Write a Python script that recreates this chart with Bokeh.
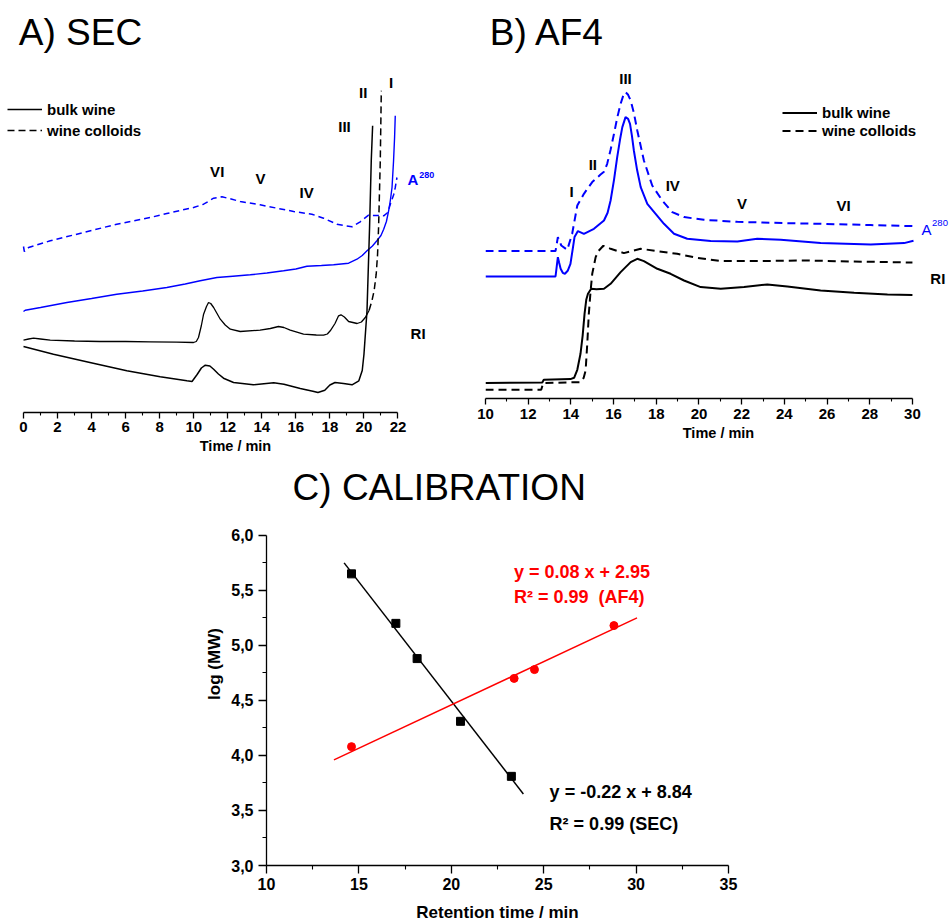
from bokeh.plotting import figure
from bokeh.models import (Range1d, FixedTicker, Legend, LegendItem, ColumnDataSource,
                          CustomJSTickFormatter)
from bokeh.layouts import column, row
from bokeh.embed import file_html
from bokeh.resources import INLINE
from bokeh.core.properties import value

FONT = "Liberation Sans"
BLUE = "#0000ff"
RED = "#ff0000"

# ---------------- Panel A: SEC chromatograms (time / min, signal a.u.) ----------------
sec_bulk_ri_t = [0, 1.76, 3.9, 6.07, 8.03, 9.6, 9.9, 10.2, 10.45, 10.68, 10.95, 11.17, 11.45,
                 11.75, 12.34, 13.5, 14.7, 15.3, 16.26, 17.0, 17.3, 17.7, 18.0, 18.3, 18.8,
                 19.3, 19.7, 19.9, 20.0, 20.18, 20.33, 20.43, 20.51]
sec_bulk_ri_y = [66, 58.3, 50, 41.7, 35.7, 31.7, 31, 38, 44.5, 47.3, 46.5, 43.3, 38.5,
                 34.3, 30, 27.7, 29.7, 28.3, 24, 21.3, 20, 22.3, 27.5, 30, 29,
                 27.7, 31.7, 42, 58, 101.7, 185, 251.7, 286.7]

sec_coll_ri_t = [0, 0.3, 0.59, 1.0, 1.57, 3.0, 4.5, 6.0, 7.44, 9.0, 9.99, 10.15, 10.28, 10.45,
                 10.58, 10.75, 10.87, 11.0, 11.17, 11.56, 11.85, 12.15, 12.73, 13.9, 14.5,
                 14.98, 15.3, 15.67, 16.45, 17.2, 17.63, 17.85, 18.02, 18.3, 18.51, 18.65,
                 18.85, 19.1, 19.6, 19.85, 20.08, 20.3, 20.47, 20.6, 20.72, 20.8, 20.86,
                 20.96, 21.02]
sec_coll_ri_y = [72.3, 73.5, 74.3, 73.5, 72.3, 71.5, 71, 71, 70.7, 70.3, 70, 71, 75, 87,
                 98.3, 106, 110, 109, 105, 93.3, 87.5, 83.3, 81, 82.3, 84,
                 86, 85, 82.3, 78.3, 77.5, 77.3, 78.5, 81.7, 89, 96.7, 97.7,
                 95.5, 91, 89, 90.5, 95, 102, 111.7, 122, 138.3, 158, 185,
                 251.7, 321.7]
SEC_COLL_SPLIT = 41  # index from which the steep part is drawn dashed

sec_bulk_uv_t = [0, 0.1, 1.0, 2.55, 4.0, 5.48, 7.0, 8.42, 9.5, 10.38, 11.36, 12.3, 13.32,
                 14.3, 15.28, 16.0, 16.65, 17.5, 18.22, 19.1, 19.59, 19.9, 20.18, 20.5,
                 20.76, 21.0, 21.16, 21.32, 21.45, 21.55, 21.65, 21.74, 21.8, 21.84]
sec_bulk_uv_y = [101, 102.3, 105, 110, 114, 118.3, 121.5, 125, 128.5, 131.7, 135, 136.3, 137.7,
                 139.5, 141.7, 143.5, 146.3, 147, 147.7, 149.3, 153.3, 157, 161.7, 166.5,
                 171.7, 177, 183.3, 191, 201.7, 212, 225, 251.7, 275, 296.7]

sec_coll_uv_t = [0, 0.05, 0.3, 1.57, 3.53, 5.48, 7.44, 8.42, 9.99, 10.58, 11.17, 11.66, 12.2,
                 12.73, 13.9, 14.89, 15.87, 16.94, 17.63, 18.41, 19.3, 19.78, 20.27, 20.7,
                 21.16, 21.4, 21.55, 21.75, 21.84, 21.94]
sec_coll_uv_y = [166, 161, 165, 171.7, 180, 188.3, 195, 199, 205, 208.3, 214.3, 215.7, 213.5,
                 211, 207.7, 204.3, 201, 198.3, 194.3, 188.3, 185.7, 190.7, 197.3, 197,
                 196.7, 200, 208.3, 218, 225, 235]

sec_peak_labels = ["VI", "V", "IV", "III", "II", "I"]
sec_peak_t = [11.38, 13.92, 16.63, 18.86, 19.96, 21.6]
sec_peak_y = [241, 234, 220, 286, 320, 330]

sec_ticks = [0, 2, 4, 6, 8, 10, 12, 14, 16, 18, 20, 22]
sec_minor = [1, 3, 5, 7, 9, 11, 13, 15, 17, 19, 21]

# ---------------- Panel B: AF4 fractograms ----------------
af4_bulk_ri_t = [10, 12.66, 12.73, 13.98, 14.15, 14.3, 14.45, 14.55, 14.64, 14.72, 14.8, 14.95,
                 15.2, 15.55, 15.86, 16.33, 16.8, 17.11, 17.42, 18.05, 18.67, 19.3, 20.08,
                 21.02, 22.11, 23.2, 24.14, 25.7, 27.27, 28.83, 30]
af4_bulk_ri_y = [14.7, 15.3, 18, 18.7, 20, 28, 44, 62, 84, 98, 104, 109,
                 108.5, 109, 114, 125.7, 135.7, 139, 136.7, 129, 124, 117.3, 110.7,
                 109, 110.7, 113.3, 111.3, 107.3, 105, 103.3, 102.7]

af4_coll_ri_t = [10, 12.61, 12.7, 14.45, 14.6, 14.69, 14.77, 14.84, 14.92, 15.0, 15.16, 15.3,
                 15.52, 15.86, 16.48, 17.27, 18.05, 18.98, 19.92, 21.02, 22.58, 24.92, 27.27, 30]
af4_coll_ri_y = [8, 8, 14.7, 15.7, 20, 27.3, 55, 84, 106, 124, 140.7, 147,
                 152, 149, 144.7, 149, 146.7, 144, 140, 136.7, 136.7, 137.3, 136.3, 135.3]

af4_bulk_uv_t = [10, 13.28, 13.34, 13.39, 13.45, 13.52, 13.62, 13.72, 13.85, 13.98, 14.08, 14.17,
                 14.33, 14.61, 15.08, 15.55, 15.72, 15.86, 16.02, 16.17, 16.3, 16.41, 16.56,
                 16.68, 16.77, 16.86, 16.95, 17.1, 17.27, 17.58, 17.97, 18.36, 18.83, 19.45,
                 20.55, 21.8, 22.73, 23.83, 25.7, 28.05, 29.61, 30.05]
af4_bulk_uv_y = [121.3, 121.3, 132, 140.7, 135, 129, 125, 124, 127, 134, 148, 160.7,
                 166.7, 164, 169, 177.3, 185, 197.3, 218, 240.7, 258, 270.7, 280.7,
                 279, 274, 262, 247.3, 228, 210.7, 194, 184, 174, 164, 159,
                 156.7, 156.3, 159, 158, 154.7, 153.3, 154.7, 157]

af4_coll_uv_t = [10, 13.28, 13.39, 13.55, 13.83, 14.06, 14.3, 14.61, 15.0, 15.39, 15.55, 15.7,
                 15.86, 16.02, 16.17, 16.33, 16.45, 16.56, 16.68, 16.8, 16.95, 17.11, 17.42,
                 17.81, 18.28, 18.75, 19.3, 20.23, 21.8, 23.36, 25.7, 28.05, 30]
af4_coll_uv_y = [146.7, 146.7, 160.7, 152.3, 148, 164, 192.3, 204, 215.7, 223.3, 226, 234,
                 248, 264, 280, 294, 302, 305.7, 303, 297.3, 285, 267.3, 237.3,
                 212.3, 197.3, 185.7, 180.7, 178, 176, 175, 174, 172.7, 171.7]

af4_peak_labels = ["I", "II", "III", "IV", "V", "VI"]
af4_peak_t = [14.03, 15.03, 16.56, 18.77, 22.02, 26.78]
af4_peak_y = [206, 233.7, 319.7, 212, 194.3, 192.7]

af4_ticks = [10, 12, 14, 16, 18, 20, 22, 24, 26, 28, 30]
af4_minor = [11, 13, 15, 17, 19, 21, 23, 25, 27, 29]

# ---------------- Panel C: calibration ----------------
sec_rt = [14.6, 17.0, 18.15, 20.5, 23.25]
sec_logmw = [5.65, 5.20, 4.88, 4.31, 3.81]
sec_fit_x = [14.2, 23.9]
sec_fit_y = [5.75, 3.65]

af4_rt = [14.6, 23.4, 24.5, 28.8]
af4_logmw = [4.08, 4.70, 4.78, 5.18]
af4_fit_x = [13.65, 30.05]
af4_fit_y = [3.96, 5.25]

cal_xticks = [10, 15, 20, 25, 30, 35]
cal_xminor = [12.5, 17.5, 22.5, 27.5, 32.5]
cal_yticks = [3.0, 3.5, 4.0, 4.5, 5.0, 5.5, 6.0]
cal_yminor = [3.25, 3.75, 4.25, 4.75, 5.25, 5.75]


def add_text(p, x, y, texts, size, color="black", style="bold", align="center",
             baseline="middle"):
    src = ColumnDataSource(dict(x=x, y=y, text=texts))
    p.text(x="x", y="y", text="text", source=src, text_font=value(FONT),
           text_font_size=value(size), text_font_style=value(style), text_color=color,
           text_align=align, text_baseline=baseline)


def clean(p):
    p.outline_line_color = None
    p.xgrid.visible = False
    p.ygrid.visible = False
    p.background_fill_color = "white"
    p.border_fill_color = "white"


def style_axis(ax, ticks, minor, bounds, label, tick_size, label_size, tick_out, minor_out,
               standoff, label_standoff):
    ax.ticker = FixedTicker(ticks=ticks, minor_ticks=minor)
    ax.bounds = bounds
    ax.axis_label = label
    ax.axis_label_text_font = FONT
    ax.axis_label_text_font_style = "bold"
    ax.axis_label_text_font_size = label_size
    ax.axis_label_text_color = "black"
    ax.axis_label_standoff = label_standoff
    ax.major_label_text_font = FONT
    ax.major_label_text_font_style = "bold"
    ax.major_label_text_font_size = tick_size
    ax.major_label_text_color = "black"
    ax.major_label_standoff = standoff
    ax.axis_line_color = "black"
    ax.axis_line_width = 1.3
    ax.major_tick_line_color = "black"
    ax.minor_tick_line_color = "black"
    ax.major_tick_line_width = 1.3
    ax.minor_tick_line_width = 1.1
    ax.major_tick_in = 0
    ax.minor_tick_in = 0
    ax.major_tick_out = tick_out
    ax.minor_tick_out = minor_out


def legend(items, loc, gh, spacing):
    return Legend(items=items, location=loc, glyph_width=35, glyph_height=gh, label_height=gh,
                  spacing=spacing, padding=0, margin=0, label_standoff=5,
                  border_line_color=None, background_fill_alpha=0,
                  label_text_font=FONT, label_text_font_style="bold",
                  label_text_font_size="15px", label_text_color="black")


TOP_BOTTOM = 50           # equal bottom border of both top panels
A_H = 412 + TOP_BOTTOM    # frame of A ends at its time axis (y = 412)
B_H = 398 + TOP_BOTTOM    # frame of B ends at its time axis (y = 398)

# ===== Panel A =====
pA = figure(width=470, height=A_H, x_range=Range1d(-1.351, 26.26), y_range=Range1d(0, 412),
            output_backend="svg", toolbar_location=None, y_axis_location=None,
            min_border_left=0, min_border_right=0, min_border_top=0,
            min_border_bottom=TOP_BOTTOM, align="start")
clean(pA)
style_axis(pA.xaxis[0], sec_ticks, sec_minor, (0, 22), "Time / min", "15px", "14.5px",
           6, 3, 3, 3)

pA.line(sec_coll_uv_t, sec_coll_uv_y, line_color=BLUE, line_width=1.5, line_dash="6 4")
pA.line(sec_bulk_uv_t, sec_bulk_uv_y, line_color=BLUE, line_width=1.4)
pA.line(sec_coll_ri_t[:SEC_COLL_SPLIT + 1], sec_coll_ri_y[:SEC_COLL_SPLIT + 1],
        line_color="black", line_width=1.3)
rA_coll = pA.line(sec_coll_ri_t[SEC_COLL_SPLIT:], sec_coll_ri_y[SEC_COLL_SPLIT:],
                  line_color="black", line_width=1.5, line_dash="7 4")
rA_bulk = pA.line(sec_bulk_ri_t, sec_bulk_ri_y, line_color="black", line_width=1.5)

add_text(pA, sec_peak_t, sec_peak_y, sec_peak_labels, "15px")
add_text(pA, [22.56], [233], ["A"], "15px", color=BLUE, align="left")
add_text(pA, [23.25], [238], ["280"], "9px", color=BLUE, align="left")
add_text(pA, [22.74], [79.3], ["RI"], "15px", align="left")
add_text(pA, [-0.276], [379.8], ["A) SEC"], "37px", style="normal", align="left")

pA.add_layout(legend([LegendItem(label="bulk wine", renderers=[rA_bulk]),
                      LegendItem(label="wine colloids", renderers=[rA_coll])],
                     (7, 273), 18, 3))

# ===== Panel B =====
pB = figure(width=481, height=B_H, x_range=Range1d(10, 31.83), y_range=Range1d(-0.7, 397.3),
            output_backend="svg", toolbar_location=None, y_axis_location=None,
            min_border_left=15, min_border_right=0, min_border_top=0,
            min_border_bottom=TOP_BOTTOM, align="start")
clean(pB)
style_axis(pB.xaxis[0], af4_ticks, af4_minor, (10, 30), "Time / min", "15px", "14.5px",
           6, 3, 4, 3)

pB.line(af4_coll_uv_t, af4_coll_uv_y, line_color=BLUE, line_width=2, line_dash="8 5")
pB.line(af4_bulk_uv_t, af4_bulk_uv_y, line_color=BLUE, line_width=2)
rB_coll = pB.line(af4_coll_ri_t, af4_coll_ri_y, line_color="black", line_width=2,
                  line_dash="8 5")
rB_bulk = pB.line(af4_bulk_ri_t, af4_bulk_ri_y, line_color="black", line_width=2)

add_text(pB, af4_peak_t, af4_peak_y, af4_peak_labels, "15px")
add_text(pB, [30.43], [168.7], ["A"], "15px", color=BLUE, style="normal", align="left")
add_text(pB, [30.92], [175.3], ["280"], "9.5px", color=BLUE, style="normal", align="left")
add_text(pB, [30.84], [119.7], ["RI"], "15px", align="left")
add_text(pB, [10.2], [365.1], ["B) AF4"], "37px", style="normal", align="left")

pB.add_layout(legend([LegendItem(label="bulk wine", renderers=[rB_bulk]),
                      LegendItem(label="wine colloids", renderers=[rB_coll])],
                     (297, 259), 17, 1))

# ===== Panel C =====
C_H = 924 - A_H
pC = figure(width=951, height=C_H, x_range=Range1d(10, 35),
            y_range=Range1d(3, 3 + (866 - A_H) / 110.33), output_backend="svg",
            toolbar_location=None, min_border_left=266, min_border_right=223,
            min_border_top=0, min_border_bottom=58)
clean(pC)
style_axis(pC.xaxis[0], cal_xticks, cal_xminor, (10, 35), "Retention time / min", "16px",
           "17px", 8, 4, 4, 10)
style_axis(pC.yaxis[0], cal_yticks, cal_yminor, (3, 6), "log (MW)", "16px", "17px",
           8, 4, 5, 4)
pC.yaxis[0].formatter = CustomJSTickFormatter(code="return tick.toFixed(1).replace('.', ',');")

pC.line(sec_fit_x, sec_fit_y, line_color="black", line_width=1.5)
pC.line(af4_fit_x, af4_fit_y, line_color=RED, line_width=1.5)
pC.scatter(sec_rt, sec_logmw, marker="square", size=8, color="black")
pC.scatter(af4_rt, af4_logmw, marker="circle", size=8, color=RED)

add_text(pC, [23.39, 23.39], [5.665, 5.438],
         ["y = 0.08 x + 2.95", "R\u00b2 = 0.99\u00a0 (AF4)"], "18px", color=RED, align="left")
add_text(pC, [25.32, 25.32], [3.664, 3.381], ["y = -0.22 x + 8.84", "R\u00b2 = 0.99 (SEC)"],
         "18px", align="left")
add_text(pC, [11.41], [6.435], ["C) CALIBRATION"], "37px", style="normal", align="left")

layout = column(row(pA, pB, spacing=0), pC, spacing=0)

with open("out.html", "w") as f:
    f.write(file_html(layout, INLINE))
